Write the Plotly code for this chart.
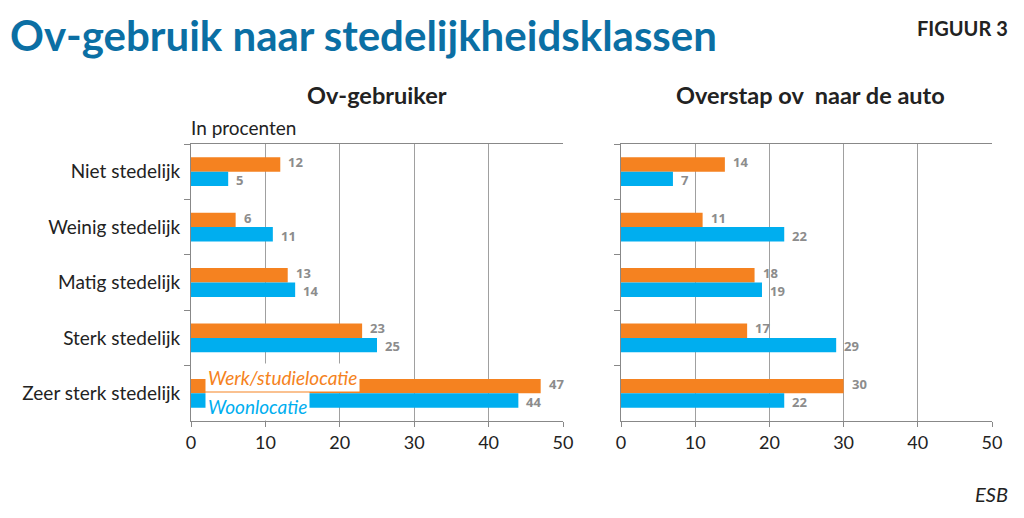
import plotly.graph_objects as go

categories = ["Niet stedelijk", "Weinig stedelijk", "Matig stedelijk",
              "Sterk stedelijk", "Zeer sterk stedelijk"]
gebruik_werk = [12, 6, 13, 23, 47]
gebruik_woon = [5, 11, 14, 25, 44]
overstap_werk = [14, 11, 18, 17, 30]
overstap_woon = [7, 22, 19, 29, 22]
x_ticks = [0, 10, 20, 30, 40, 50]

ORANGE = "#F58220"
BLUE = "#00AEEF"
LABEL = "#8C8C8C"
FONT = "Lato"

fig = go.Figure()
labels = []

def add_pair(werk, woon, xa, ya):
    for vals, col, name, ysh in ((werk, ORANGE, "Werk/studielocatie", 9.5),
                                 (woon, BLUE, "Woonlocatie", -8.5)):
        fig.add_trace(go.Bar(
            y=categories, x=vals, orientation="h", name=name,
            marker=dict(color=col, line=dict(width=0)),
            xaxis=xa, yaxis=ya, showlegend=False, hoverinfo="skip",
        ))
        for c, v in zip(categories, vals):
            labels.append(dict(
                text=f"<b>{v}</b>", x=v, y=c, xref=xa, yref=ya,
                xanchor="left", yanchor="middle", xshift=6, yshift=ysh,
                showarrow=False, font=dict(color=LABEL, size=13, family="Open Sans"),
            ))

add_pair(gebruik_werk, gebruik_woon, "x", "y")
add_pair(overstap_werk, overstap_woon, "x2", "y2")

ax_common = dict(
    range=[0, 50], tickvals=x_ticks, ticks="outside", ticklen=5, tickcolor="#888",
    showgrid=True, gridcolor="#A0A0A0", gridwidth=1,
    showline=True, linecolor="#888", linewidth=1, mirror=True,
    tickfont=dict(size=18, color="#222", family=FONT), zeroline=False, fixedrange=True,
    automargin=False,
)
ay_common = dict(
    type="category", categoryorder="array", categoryarray=categories,
    autorange="reversed", tickson="boundaries", ticks="outside", ticklen=6,
    tickcolor="#888", showline=True, linecolor="#888", linewidth=1,
    showgrid=False, zeroline=False, fixedrange=True, automargin=False,
)

Y0 = 1 - 421 / 518
Y1 = 1 - 144 / 518

fig.update_layout(
    width=1024, height=518, autosize=False,
    margin=dict(l=0, r=0, t=0, b=0, pad=0),
    paper_bgcolor="white", plot_bgcolor="white",
    barmode="group", bargap=0.48, bargroupgap=0,
    font=dict(family=FONT, color="#222"),
    xaxis=dict(domain=[191 / 1024, 563 / 1024], anchor="y", **ax_common),
    xaxis2=dict(domain=[621 / 1024, 992 / 1024], anchor="y2", **ax_common),
    yaxis=dict(domain=[Y0, Y1], anchor="x", showticklabels=True, ticklabelstandoff=6,
               tickfont=dict(size=19, color="#222", family=FONT), **ay_common),
    yaxis2=dict(domain=[Y0, Y1], anchor="x2", showticklabels=False, **ay_common),
)

ann = [
    dict(text="<b>Ov-gebruik naar stedelijkheidsklassen</b>", x=8 / 1024, y=1 - 35 / 518,
         xanchor="left", yanchor="middle", font=dict(size=42, color="#0B6FA4", family=FONT)),
    dict(text="<b>FIGUUR 3</b>", x=1010 / 1024, y=1 - 28 / 518,
         xanchor="right", yanchor="middle", font=dict(size=20, color="#222", family=FONT)),
    dict(text="<b>Ov-gebruiker</b>", x=377 / 1024, y=1 - 95 / 518,
         xanchor="center", yanchor="middle", font=dict(size=23.5, color="#222", family=FONT)),
    dict(text="<b>Overstap ov  naar de auto</b>", x=810 / 1024, y=1 - 95 / 518,
         xanchor="center", yanchor="middle", font=dict(size=23.5, color="#222", family=FONT)),
    dict(text="In procenten", x=189 / 1024, y=1 - 128 / 518,
         xanchor="left", yanchor="middle", font=dict(size=19, color="#222", family=FONT)),
    dict(text="<i>ESB</i>", x=1010 / 1024, y=1 - 494 / 518,
         xanchor="right", yanchor="middle", font=dict(size=20, color="#222", family=FONT)),
    dict(text="<i>Werk/studielocatie</i>", x=205 / 1024, y=1 - 377 / 518,
         xanchor="left", yanchor="middle", bgcolor="white", borderpad=2,
         font=dict(size=19, color=ORANGE, family=FONT)),
    dict(text="<i>Woonlocatie</i>", x=205 / 1024, y=1 - 406 / 518,
         xanchor="left", yanchor="middle", bgcolor="white", borderpad=2,
         font=dict(size=19, color=BLUE, family=FONT)),
]
for a in ann:
    a.update(xref="paper", yref="paper", showarrow=False)
fig.update_layout(annotations=ann + labels)

fig.write_html(
    "out.html",
    config={"displayModeBar": False},
    post_script=("document.documentElement.style.margin='0';"
                 "document.body.style.margin='0';"
                 "document.documentElement.style.overflow='hidden';"
                 "document.body.style.overflow='hidden';"),
)
